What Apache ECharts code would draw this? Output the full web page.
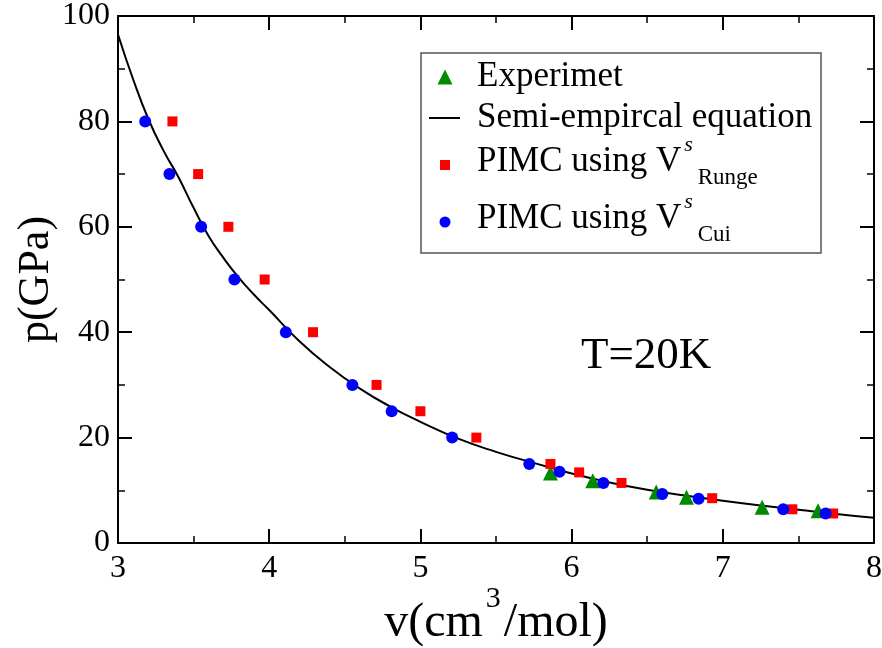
<!DOCTYPE html>
<html>
<head>
<meta charset="utf-8">
<script src="https://cdn.jsdelivr.net/npm/echarts@6/dist/echarts.min.js"></script>
<style>html,body{margin:0;padding:0;background:#fff}#c{width:882px;height:648px}</style>
</head>
<body>
<div id="c"></div>
<script>
// ---- data ----
var experiment = [[5.86,13.3],[6.14,11.8],[6.56,9.7],[6.76,8.7],[7.26,6.8],[7.63,6.1]];
var semiEmpirical = [[3.0,96.5],[3.1,88],[3.2,80.5],[3.3,74.5],[3.4,69.4],[3.5,63.6],[3.6,58.2],[3.7,54],[3.8,50.3],[3.9,47.1],[4.0,44.2],[4.2,38.3],[4.4,33.4],[4.6,29.3],[4.8,25.9],[5.0,23],[5.25,19.8],[5.5,17.3],[5.75,15.2],[6.0,13.2],[6.25,11.5],[6.5,10.1],[6.75,9.0],[7.0,8.0],[7.25,7.1],[7.5,6.3],[7.75,5.5],[8.0,4.8]];
var pimcRunge = [[3.36,80],[3.53,70],[3.73,60],[3.97,50],[4.29,40],[4.71,30],[5.0,25],[5.37,20],[5.86,15],[6.05,13.4],[6.33,11.4],[6.93,8.5],[7.46,6.4],[7.73,5.6]];
var pimcCui = [[3.18,80],[3.34,70],[3.55,60],[3.77,50],[4.11,40],[4.55,30],[4.81,25],[5.21,20],[5.72,15],[5.92,13.5],[6.21,11.4],[6.6,9.3],[6.84,8.4],[7.4,6.4],[7.68,5.6]];
var xRange = [3, 8], xStep = 1;
var yRange = [0, 100], yStep = 20;
var names = ['Experimet', 'Semi-empircal equation', 'PIMC using Vs Runge', 'PIMC using Vs Cui'];
var annotation = 'T=20K';

var FONT = 'Liberation Serif';
var chart = echarts.init(document.getElementById('c'));

function axisCommon(showLabel, margin) {
  return {
    axisLine: {show: true, onZero: false, lineStyle: {color: '#000', width: 2}},
    axisTick: {show: true, inside: true, length: 14, lineStyle: {color: '#000', width: 2}},
    minorTick: {show: true, splitNumber: 2, length: 7, lineStyle: {color: '#000', width: 1.5}},
    splitLine: {show: false},
    axisLabel: {show: showLabel, color: '#000', fontFamily: FONT, fontSize: 32, margin: margin}
  };
}

var richV = {
  m: {fontFamily: FONT, fontSize: 35, color: '#000', lineHeight: 62, verticalAlign: 'top', padding: [10, 0, 0, 0]},
  s: {fontFamily: FONT, fontSize: 22, fontStyle: 'italic', color: '#000', lineHeight: 22, verticalAlign: 'top', padding: [0, 0, 0, 3]},
  b: {fontFamily: FONT, fontSize: 23, color: '#000', lineHeight: 23, verticalAlign: 'bottom', padding: [0, 0, 6.5, 5]}
};

// cx, cy: centre of legend symbol; w,h: symbol box
function legendAt(name, cx, cy, icon, w, h, rich) {
  var L = rich ? 62 : 35;
  var ts = {fontFamily: FONT, fontSize: 35, color: '#000', lineHeight: L, padding: [0, 0, 0, 477 - (cx - w / 2 + w + 5)]};
  var l = {
    data: [{name: name, icon: icon}],
    left: cx - w / 2, top: cy - L / 2, padding: 0,
    itemWidth: w, itemHeight: h,
    selectedMode: false,
    textStyle: ts
  };
  if (rich) { l.formatter = rich; ts.rich = richV; }
  return l;
}

var option = {
  animation: false,
  backgroundColor: '#fff',
  grid: {left: 118, right: 8, top: 16, bottom: 105, containLabel: false, outerBoundsMode: 'none'},
  xAxis: [
    Object.assign(axisCommon(true, 10), {
      type: 'value', min: xRange[0], max: xRange[1], interval: xStep, position: 'bottom',
      name: '{m|v(cm}{s|3}{m|/mol)}', nameLocation: 'middle', nameGap: 41, nameMoveOverlap: false,
      nameTextStyle: {rich: {
        m: {fontFamily: FONT, fontSize: 48, color: '#000', lineHeight: 78},
        s: {fontFamily: FONT, fontSize: 30, color: '#000', lineHeight: 30, verticalAlign: 'top', padding: [0, 3, 0, 3]}
      }}
    }),
    Object.assign(axisCommon(false, 8), {type: 'value', min: xRange[0], max: xRange[1], interval: xStep, position: 'top'})
  ],
  yAxis: [
    Object.assign(axisCommon(true, 8), {
      type: 'value', min: yRange[0], max: yRange[1], interval: yStep, position: 'left',
      name: 'p(GPa)', nameLocation: 'middle', nameGap: 60, nameMoveOverlap: false,
      nameTextStyle: {fontFamily: FONT, fontSize: 44, color: '#000'}
    }),
    Object.assign(axisCommon(false, 8), {type: 'value', min: yRange[0], max: yRange[1], interval: yStep, position: 'right'})
  ],
  legend: [
    legendAt(names[0], 445, 77, 'triangle', 15, 15),
    legendAt(names[1], 444.5, 118, 'rect', 31, 2),
    legendAt(names[2], 445, 165, 'rect', 10, 10, function () { return '{m|PIMC using V}{s|s}{b|Runge}'; }),
    legendAt(names[3], 445, 222, 'circle', 11, 11, function () { return '{m|PIMC using V}{s|s}{b|Cui}'; })
  ],
  graphic: [
    {type: 'rect', shape: {x: 421, y: 53, width: 400, height: 200}, style: {fill: 'none', stroke: '#555', lineWidth: 1.5}, z: 0},
    {type: 'text', left: 581, top: 334, style: {text: annotation, font: '45px "Liberation Serif"', fill: '#000'}}
  ],
  series: [
    {name: names[1], type: 'line', data: semiEmpirical, smooth: true, showSymbol: false, symbol: 'none',
     lineStyle: {color: '#000', width: 2}, itemStyle: {color: '#000'}, z: 1},
    {name: names[0], type: 'scatter', data: experiment, symbol: 'triangle', symbolSize: 15,
     itemStyle: {color: '#008a00', opacity: 1}, z: 2},
    {name: names[2], type: 'scatter', data: pimcRunge, symbol: 'rect', symbolSize: 10,
     itemStyle: {color: '#ff0000', opacity: 1}, z: 3},
    {name: names[3], type: 'scatter', data: pimcCui, symbol: 'circle', symbolSize: 12,
     itemStyle: {color: '#0000ff', opacity: 1}, z: 4}
  ]
};
chart.setOption(option);
</script>
</body>
</html>
